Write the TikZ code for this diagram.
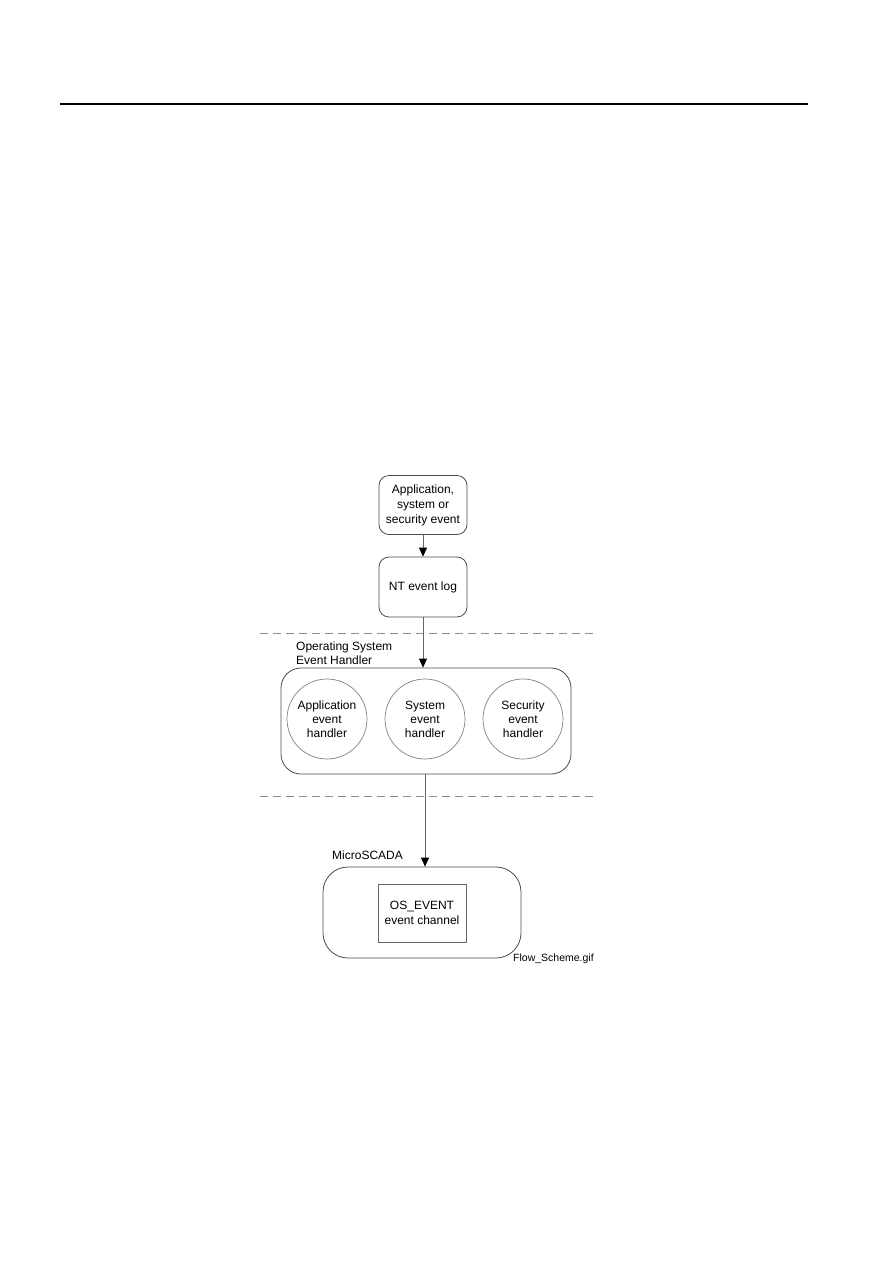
\documentclass[tikz,border=0pt]{standalone}
\usepackage{fontspec}
\setmainfont{Liberation Sans}
\usetikzlibrary{arrows.meta}

\tikzset{
  evbox/.style={draw=black!70, line width=0.8pt, rounded corners=10pt,
    minimum width=88pt, minimum height=59pt, align=center,
    font=\fontsize{12}{15}\selectfont},
  handler/.style={circle, draw=black!50, line width=0.7pt, minimum size=80pt,
    inner sep=0pt, align=center, font=\fontsize{12}{14}\selectfont},
  layer/.style={draw=black!70, line width=0.8pt},
  flow/.style={draw=black!60, line width=0.8pt, -{Triangle[length=9pt,width=8pt,black]}},
  divider/.style={draw=black!45, line width=0.8pt, dash pattern=on 8pt off 5pt},
  caption/.style={font=\fontsize{12}{14}\selectfont, align=left, inner sep=0pt}
}

\begin{document}
\begin{tikzpicture}[x=1pt, y=-1pt]
    \useasboundingbox (0,0) rectangle (893,1263);

    % Kopflinie
    \draw[line width=1.2pt] (60,104) -- (808,104);

    % Ereignisquelle und Ereignisprotokoll
    \node[evbox] (evt) at (423,505) {Application,\\system or\\security event};
    \node[evbox, minimum height=60pt] (ntlog) at (423,587) {NT event log};

    % Trennlinien
    \draw[divider] (260,633) -- (593,633);
    \draw[divider] (260,796) -- (593,796);

    % Operating System Event Handler
    \node[caption, anchor=base west] (oslabel) at (296,664) {Operating System\\Event Handler};
    \node[layer, rounded corners=20pt, minimum width=290pt, minimum height=106pt]
        (oseh) at (426,721) {};
    \node[handler] (appeh) at (327,719) {Application\\event\\handler};
    \node[handler] (syseh) at (425,719) {System\\event\\handler};
    \node[handler] (seceh) at (523,719) {Security\\event\\handler};

    % MicroSCADA
    \node[caption, anchor=base west] (mslabel) at (332,859) {MicroSCADA};
    \node[layer, rounded corners=25pt, minimum width=198pt, minimum height=91pt]
        (micro) at (422,912.5) {};
    \node[layer, draw=black!60, minimum width=88pt, minimum height=58pt, align=center,
        font=\fontsize{12}{15}\selectfont] (oschan) at (422,913) {OS\_EVENT\\event channel};
    \node[anchor=base west, inner sep=0pt, font=\fontsize{10.5}{12}\selectfont]
        (gif) at (513,961) {Flow\_Scheme.gif};

    % Verbindungen
    \draw[flow] (evt.south) -- (ntlog.north);
    \draw[flow] (ntlog.south) -- (ntlog.south |- oseh.north);
    \draw[flow] (oseh.south -| syseh) -- (syseh |- micro.north);

\end{tikzpicture}
\end{document}
